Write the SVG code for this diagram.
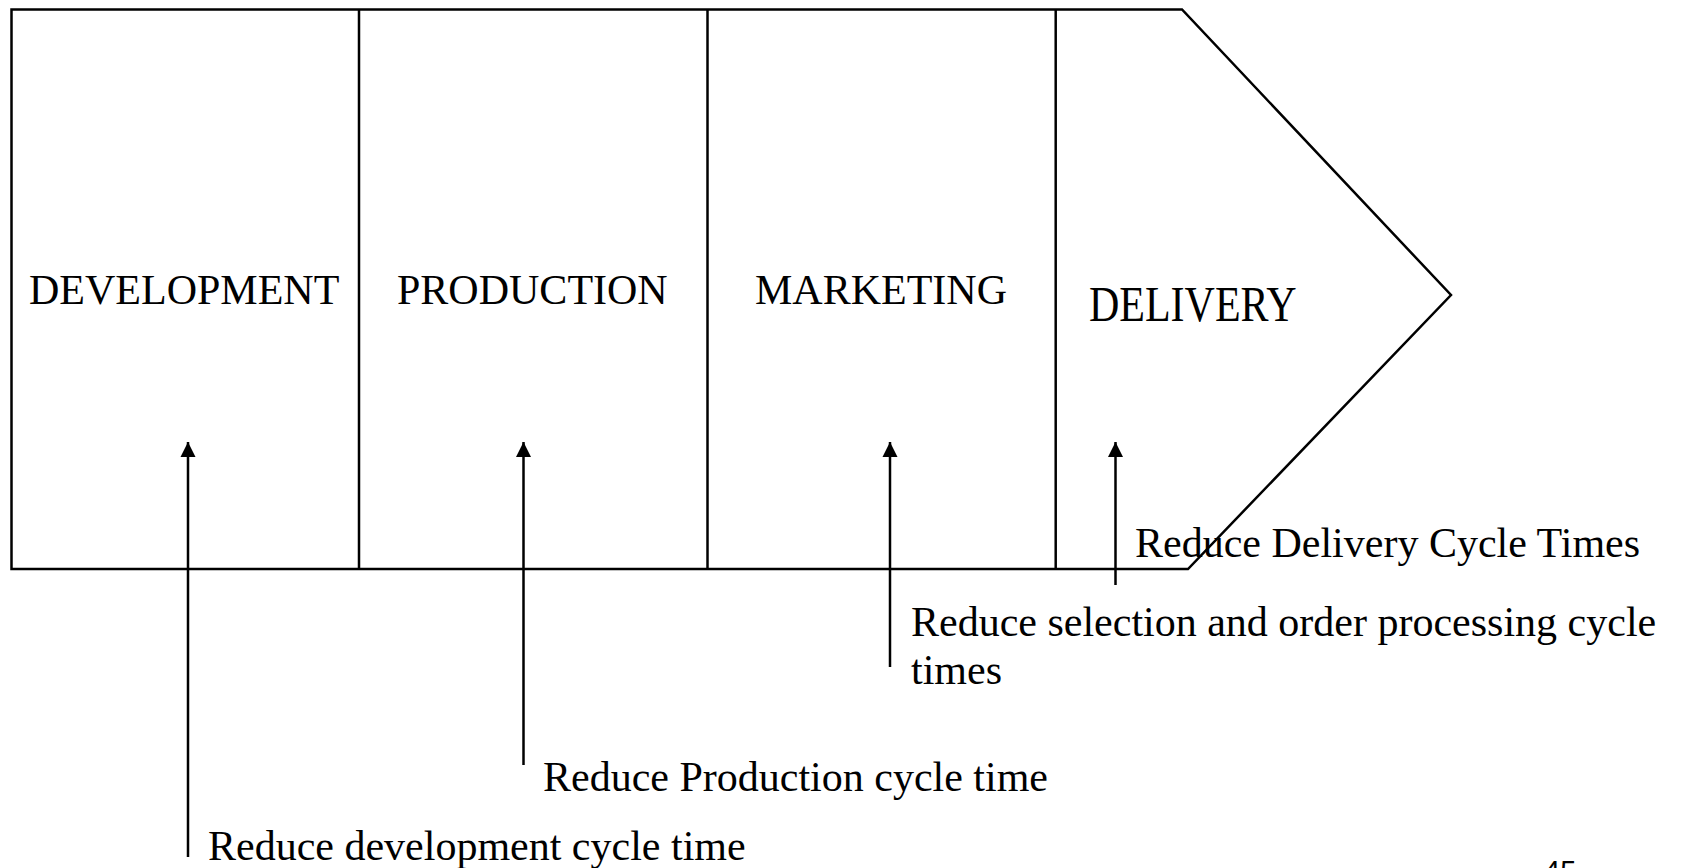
<svg xmlns="http://www.w3.org/2000/svg" width="1682" height="868" viewBox="0 0 1682 868">
  <style>
    .outline { fill: #ffffff; stroke: #000000; stroke-width: 2.5; stroke-linejoin: miter; }
    .divider { stroke: #000000; stroke-width: 2.5; }
    .stage { font-family: "Liberation Serif", "Times New Roman", serif; font-size: 42px; fill: #000000; }
    .note { font-family: "Liberation Serif", "Times New Roman", serif; font-size: 42px; fill: #000000; }
    .arrow { stroke: #000000; stroke-width: 2.5; fill: none; marker-end: url(#head); }
    .pageno { font-family: "Liberation Sans", Arial, sans-serif; font-size: 29px; fill: #000000; }
  </style>
  <defs>
    <marker id="head" viewBox="0 0 16 16" refX="15" refY="8" markerWidth="16" markerHeight="16" markerUnits="userSpaceOnUse" orient="auto">
      <path d="M0,0.5 L15,8 L0,15.5 Z" fill="#000000"/>
    </marker>
  </defs>

  <rect width="1682" height="868" fill="#ffffff"/>

  <!-- value chain arrow outline with stage dividers -->
  <g id="chain">
    <polygon class="outline" points="11.5,9.5 1182,9.5 1451,295 1188,569 11.5,569"/>
    <line class="divider" x1="359" y1="9.5" x2="359" y2="569"/>
    <line class="divider" x1="707.5" y1="9.5" x2="707.5" y2="569"/>
    <line class="divider" x1="1055.7" y1="9.5" x2="1055.7" y2="569"/>
  </g>

  <g id="development">
    <text class="stage" x="29" y="304">DEVELOPMENT</text>
  </g>
  <g id="production">
    <text class="stage" x="397" y="304">PRODUCTION</text>
  </g>
  <g id="marketing">
    <text class="stage" x="755" y="304">MARKETING</text>
  </g>
  <g id="delivery">
    <text class="stage" transform="translate(1089,321) scale(1,1.23)" x="0" y="0">DELIVERY</text>
  </g>

  <!-- improvement arrows pointing up into each stage -->
  <g id="connectors">
    <line class="arrow" x1="188" y1="857" x2="188" y2="442"/>
    <line class="arrow" x1="523.5" y1="765" x2="523.5" y2="442"/>
    <line class="arrow" x1="890" y1="667" x2="890" y2="442"/>
    <line class="arrow" x1="1115.5" y1="585" x2="1115.5" y2="442"/>
  </g>

  <g id="note-delivery">
    <text class="note" x="1135" y="557">Reduce Delivery Cycle Times</text>
  </g>
  <g id="note-marketing">
    <text class="note" x="911" y="636">Reduce selection and order processing cycle</text>
    <text class="note" x="911" y="684">times</text>
  </g>
  <g id="note-production">
    <text class="note" x="543" y="791">Reduce Production cycle time</text>
  </g>
  <g id="note-development">
    <text class="note" x="208" y="860">Reduce development cycle time</text>
  </g>

  <text class="pageno" x="1544" y="881">45</text>
</svg>
